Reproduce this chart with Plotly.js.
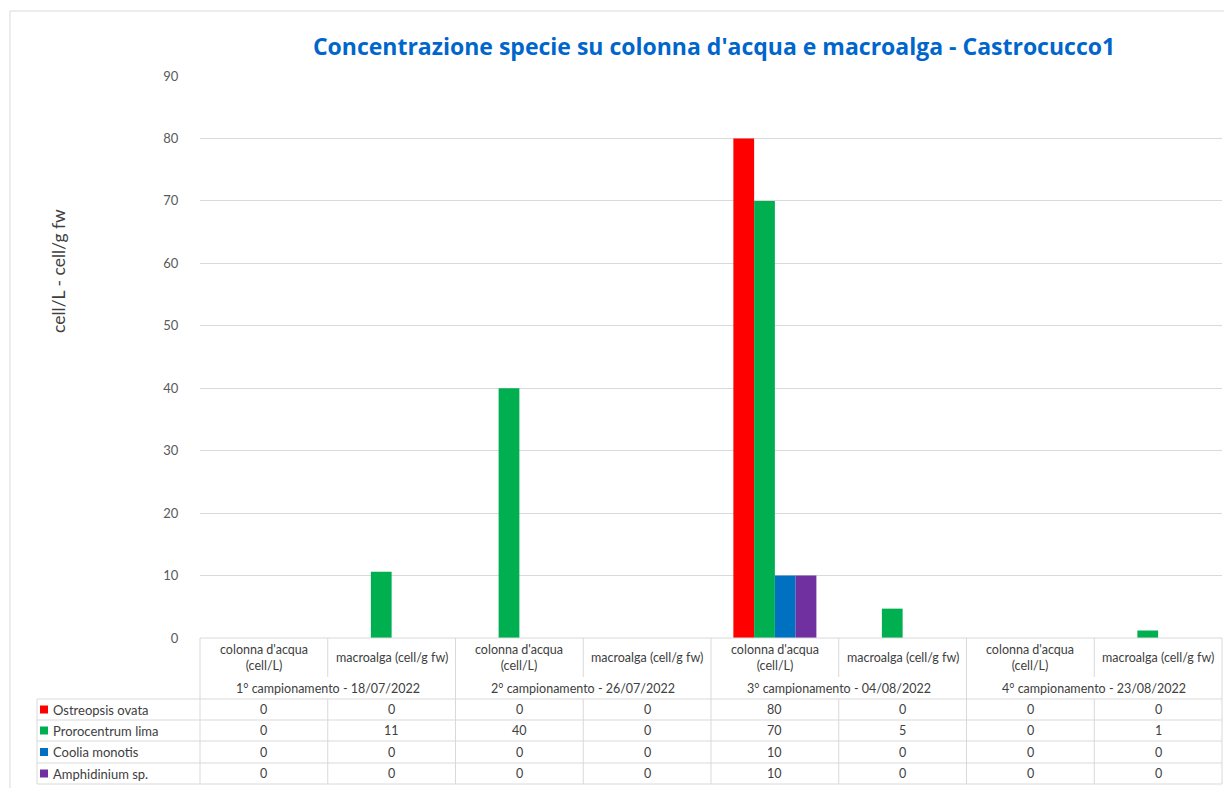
<!DOCTYPE html>
<html>
<head>
<meta charset="utf-8">
<script src="https://cdn.plot.ly/plotly-3.0.1.min.js"></script>
<style>
  html, body { margin: 0; padding: 0; background: #ffffff; }
  #chart { width: 1224px; height: 788px; }
</style>
</head>
<body>
<div id="chart"></div>
<script>
// Sampling campaigns and the two matrices sampled in each one
const campaigns = [
  "1° campionamento - 18/07/2022",
  "2° campionamento - 26/07/2022",
  "3° campionamento - 04/08/2022",
  "4° campionamento - 23/08/2022"
];
const matrices = ["colonna d'acqua (cell/L)", "macroalga (cell/g fw)"];
const matrixLabels = ["colonna d'acqua<br>(cell/L)", "macroalga (cell/g fw)"];

// Species concentrations, one value per campaign/matrix pair
const speciesNames = ["Ostreopsis ovata", "Prorocentrum lima", "Coolia monotis", "Amphidinium sp."];
const ostreopsisOvata   = [0, 0, 0, 0, 80, 0, 0, 0];
const prorocentrumLima  = [0, 10.6, 40, 0, 70, 4.7, 0, 1.2];
const cooliaMonotis     = [0, 0, 0, 0, 10, 0, 0, 0];
const amphidiniumSp     = [0, 0, 0, 0, 10, 0, 0, 0];
const speciesColors = ["#FF0000", "#00B050", "#0070C0", "#7030A0"];

const yTicks = [0, 10, 20, 30, 40, 50, 60, 70, 80, 90];

const seriesValues = [ostreopsisOvata, prorocentrumLima, cooliaMonotis, amphidiniumSp];

// One x category per campaign/matrix pair
const categories = [];
campaigns.forEach(c => matrices.forEach(m => categories.push(c + " | " + m)));

// Figure geometry (pixels)
const W = 1224, H = 788;
const plotL = 200, plotR = 1222, plotT = 76, plotB = 638;
const px = x => x / W;
const py = y => 1 - y / H;
const colW = (plotR - plotL) / categories.length;
const colEdge = i => plotL + i * colW;

const traces = seriesValues.map((vals, k) => ({
  type: "bar",
  name: speciesNames[k],
  x: categories,
  y: vals,
  marker: { color: speciesColors[k] },
  showlegend: false,
  hoverinfo: "x+y+name"
}));

const gridColor = "#d9d9d9";
const textColor = "#404040";
const font = "Lato, 'Open Sans', sans-serif";
const titleFont = "'Open Sans', 'Noto Sans', sans-serif";

const shapes = [];
const annotations = [];
const line = (x0, y0, x1, y1) => shapes.push({
  type: "line", xref: "paper", yref: "paper",
  x0: px(x0), y0: py(y0), x1: px(x1), y1: py(y1),
  line: { color: gridColor, width: 1 }, layer: "above"
});

// Chart frame
line(10, 11, W, 11);
line(10, 11, 10, H);

// Data table rows
const headerTop = plotB, headerMid = 677, rowTop = 699;
const rowEdges = [699, 720, 741, 763, 784];
const tableLeft = 37;

line(plotL, headerTop, plotR, headerTop);
rowEdges.forEach(y => line(tableLeft, y, plotR, y));
line(tableLeft, rowTop, tableLeft, rowEdges[rowEdges.length - 1]);
line(plotL, headerTop, plotL, rowEdges[rowEdges.length - 1]);
line(plotR, headerTop, plotR, rowEdges[rowEdges.length - 1]);
for (let i = 1; i < categories.length; i++) {
  const x = colEdge(i);
  if (i % 2 === 0) {
    line(x, headerTop, x, rowEdges[rowEdges.length - 1]);
  } else {
    line(x, headerTop, x, headerMid);
    line(x, rowTop, x, rowEdges[rowEdges.length - 1]);
  }
}

// Matrix labels
categories.forEach((c, i) => {
  annotations.push({
    xref: "paper", yref: "paper",
    x: px(colEdge(i) + colW / 2), y: py(657),
    text: matrixLabels[i % 2], showarrow: false,
    xanchor: "center", yanchor: "middle",
    font: { family: font, size: 12.5, color: textColor }
  });
});

// Campaign labels
campaigns.forEach((c, g) => {
  annotations.push({
    xref: "paper", yref: "paper",
    x: px(colEdge(2 * g + 1)), y: py(688),
    text: c, showarrow: false,
    xanchor: "center", yanchor: "middle",
    font: { family: font, size: 12.5, color: textColor }
  });
});

// Series rows: legend key, name and values
seriesValues.forEach((vals, k) => {
  const yc = (rowEdges[k] + rowEdges[k + 1]) / 2;
  shapes.push({
    type: "rect", xref: "paper", yref: "paper",
    x0: px(40), x1: px(48), y0: py(yc + 4), y1: py(yc - 4),
    fillcolor: speciesColors[k], line: { width: 0 }
  });
  annotations.push({
    xref: "paper", yref: "paper",
    x: px(51), y: py(yc),
    text: speciesNames[k], showarrow: false,
    xanchor: "left", yanchor: "middle",
    font: { family: font, size: 13, color: textColor }
  });
  vals.forEach((v, i) => {
    annotations.push({
      xref: "paper", yref: "paper",
      x: px(colEdge(i) + colW / 2), y: py(yc),
      text: String(Math.round(v)), showarrow: false,
      xanchor: "center", yanchor: "middle",
      font: { family: font, size: 12.5, color: textColor }
    });
  });
});

// Vertical axis title
annotations.push({
  xref: "paper", yref: "paper",
  x: px(58), y: py(271),
  text: "cell/L - cell/g fw", showarrow: false, textangle: -90,
  xanchor: "center", yanchor: "middle",
  font: { family: font, size: 17.5, color: textColor }
});

const layout = {
  width: W, height: H,
  margin: { l: 0, r: 0, t: 0, b: 0, pad: 0 },
  paper_bgcolor: "#ffffff",
  plot_bgcolor: "#ffffff",
  barmode: "group",
  bargap: 0.35,
  bargroupgap: 0,
  title: {
    text: "<b>Concentrazione specie su colonna d'acqua e macroalga - Castrocucco1</b>",
    x: px(714), xanchor: "center",
    y: py(47), yanchor: "middle",
    font: { family: titleFont, size: 23, color: "#0066CC" }
  },
  xaxis: {
    domain: [px(plotL), px(plotR)],
    type: "category",
    showticklabels: false,
    showgrid: false,
    zeroline: false,
    showline: false,
    ticks: ""
  },
  yaxis: {
    domain: [py(plotB), py(plotT)],
    range: [0, 90],
    tickvals: yTicks,
    showgrid: true,
    gridcolor: gridColor,
    gridwidth: 1,
    zeroline: false,
    showline: false,
    ticks: "outside",
    ticklen: 18,
    tickcolor: "rgba(0,0,0,0)",
    tickfont: { family: font, size: 13, color: "#595959" }
  },
  shapes: shapes,
  annotations: annotations
};

Plotly.newPlot("chart", traces, layout, { displayModeBar: false, staticPlot: true });
</script>
</body>
</html>
